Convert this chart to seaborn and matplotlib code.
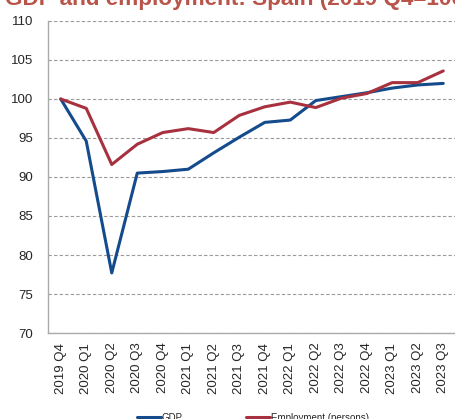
import matplotlib
matplotlib.use("Agg")
import matplotlib.pyplot as plt
import seaborn as sns
import pandas as pd
import numpy as np
from matplotlib.lines import Line2D

quarters = ["2019 Q4", "2020 Q1", "2020 Q2", "2020 Q3", "2020 Q4", "2021 Q1", "2021 Q2",
            "2021 Q3", "2021 Q4", "2022 Q1", "2022 Q2", "2022 Q3", "2022 Q4", "2023 Q1",
            "2023 Q2", "2023 Q3"]
gdp = [100.0, 94.6, 77.7, 90.5, 90.7, 91.0, 93.1, 95.1, 97.0, 97.3, 99.8, 100.3, 100.8,
       101.4, 101.8, 102.0]
employment = [100.0, 98.8, 91.6, 94.2, 95.7, 96.2, 95.7, 97.9, 99.0, 99.6, 98.9, 100.1,
              100.7, 102.1, 102.1, 103.6]
series_names = ["GDP", "Employment (persons)"]
colors = ["#134b8c", "#a8313f"]
title = "GDP and employment: Spain (2019 Q4=100)"

sns.set_style("white")
plt.rcParams['font.family'] = ['Liberation Sans', 'DejaVu Sans']

df = pd.DataFrame({"quarter": quarters * 2,
                   "pos": list(range(len(quarters))) * 2,
                   "value": gdp + employment,
                   "series": [series_names[0]] * len(quarters) + [series_names[1]] * len(quarters)})

fig = plt.figure(figsize=(4.56, 4.19), dpi=100)
ax = fig.add_axes([48 / 456, 1 - 333 / 419, 408 / 456, 312 / 419])

sns.lineplot(data=df, x="pos", y="value", hue="series", palette=colors, linewidth=2.2,
             ax=ax, legend=False)

ax.set_xlim(-0.5, len(quarters) - 0.5)
ax.set_ylim(70, 110)
ax.set_yticks(np.arange(70, 111, 5))
ax.set_xticks(range(len(quarters)))
ax.set_xticklabels(quarters, rotation=90, fontsize=9.5)
ax.set_xticks(np.arange(-0.5, len(quarters), 1), minor=True)
ax.tick_params(axis="x", which="major", length=0, pad=7)
ax.tick_params(axis="x", which="minor", length=4, direction="in", color="#999999", width=0.8)
ax.tick_params(axis="y", length=0, pad=10.5, labelsize=9.5)
ax.set_xlabel("")
ax.set_ylabel("")
ax.yaxis.grid(True, linestyle=(0, (3, 2)), color="#999999", linewidth=0.8)
ax.set_axisbelow(True)
for s in ["top", "right"]:
    ax.spines[s].set_visible(False)
for s in ["left", "bottom"]:
    ax.spines[s].set_color("#aaaaaa")
    ax.spines[s].set_linewidth(1.0)

fig.text(5 / 456, 1 - 5 / 419, title, fontsize=16.2, fontweight="bold", color="#b85449",
         ha="left", va="baseline")

handles = [Line2D([0], [0], color=c, linewidth=2.2) for c in colors]
fig.legend(handles, series_names, loc="upper center", bbox_to_anchor=(0.555, 1 - 404 / 419),
           ncol=2, frameon=False, fontsize=7, handlelength=2.5, handletextpad=0.1,
           columnspacing=6.5)

fig.savefig("out.png", dpi=100)
